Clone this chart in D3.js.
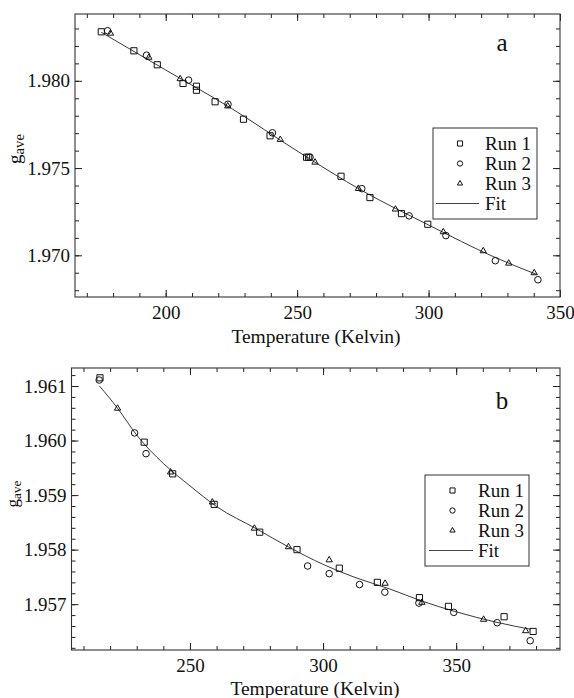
<!DOCTYPE html>
<html>
<head>
<meta charset="utf-8">
<script src="https://cdn.jsdelivr.net/npm/d3@7"></script>
<style>
  html, body { margin: 0; padding: 0; background: #fff; }
  svg { display: block; }
  text { font-family: "Liberation Serif", "Times New Roman", serif; fill: #111; }
</style>
</head>
<body>
<svg id="chart" width="574" height="698"></svg>
<script>
// ---------- Panel a data (Temperature K, g_ave) ----------
const aRun1 = [[175.5,1.98281],[187.9,1.98172],[196.8,1.98092],[206.6,1.97985],[211.7,1.97969],[211.7,1.97946],
  [218.8,1.97880],[229.6,1.97780],[239.7,1.97685],[253.6,1.97562],[254.4,1.97562],[266.7,1.97453],
  [277.7,1.97331],[289.7,1.97239],[299.7,1.97178]];
const aRun2 = [[177.9,1.98287],[192.7,1.98147],[208.7,1.98004],[223.7,1.97866],[240.6,1.97702],[254.9,1.97562],
  [274.6,1.97382],[292.6,1.97226],[306.6,1.97113],[325.4,1.96969],[341.6,1.96860]];
const aRun3 = [[179.0,1.98272],[193.6,1.98134],[205.5,1.98011],[223.6,1.97855],[243.6,1.97663],[256.8,1.97533],
  [273.3,1.97382],[287.4,1.97264],[305.6,1.97134],[320.8,1.97025],[330.5,1.96954],[340.2,1.96899]];
const aFit = [[175.5,1.98278],[200,1.98062],[225,1.97842],[250,1.97598],[275,1.97368],[300,1.97174],
  [325,1.96990],[341,1.96891]];
const aXTicks = [200, 250, 300, 350];
const aYTicks = [1.970, 1.975, 1.980];

// ---------- Panel b data ----------
const bRun1 = [[216.2,1.96115],[232.8,1.95997],[243.5,1.95939],[259.1,1.95883],[276.2,1.95832],[290.2,1.95800],
  [306.1,1.95766],[320.4,1.95740],[336.2,1.95712],[347.1,1.95696],[368.0,1.95677],[378.9,1.95650]];
const bRun2 = [[215.9,1.96111],[229.2,1.96014],[233.5,1.95976],[294.2,1.95770],[302.3,1.95756],[313.7,1.95736],
  [323.2,1.95722],[336.0,1.95702],[349.1,1.95685],[365.4,1.95666],[377.8,1.95633]];
const bRun3 = [[222.8,1.96059],[242.7,1.95942],[258.4,1.95887],[274.2,1.95839],[287.0,1.95805],[302.3,1.95781],
  [323.3,1.95738],[337.1,1.95703],[360.3,1.95672],[376.1,1.95651]];
const bFit = [[216,1.96100],[223,1.96058],[230,1.96010],[240,1.95958],[250,1.95917],[260,1.95879],[275,1.95838],
  [287,1.95805],[300,1.95773],[312,1.95749],[325,1.95728],[337,1.95706],[350,1.95686],[365,1.95667],[378,1.95654]];
const bXTicks = [250, 300, 350];
const bYTicks = [1.957, 1.958, 1.959, 1.960, 1.961];

const legendLabels = ["Run 1", "Run 2", "Run 3", "Fit"];
const xTitle = "Temperature (Kelvin)";

const svg = d3.select("#chart");

function drawPanel(cfg) {
  const g = svg.append("g");
  const x = d3.scaleLinear().domain(cfg.xDomain).range([cfg.left, cfg.right]);
  const y = d3.scaleLinear().domain(cfg.yDomain).range([cfg.bottom, cfg.top]);
  const H = cfg.bottom - cfg.top, W = cfg.right - cfg.left;

  // minor ticks
  const minorX = d3.range(cfg.xMinor[0], cfg.xMinor[1] + 1e-9, cfg.xMinor[2]);
  const minorY = d3.range(cfg.yMinor[0], cfg.yMinor[1] + 1e-12, cfg.yMinor[2]);
  const axes = [
    [d3.axisBottom(x), `translate(0,${cfg.bottom})`, minorX, cfg.xTicks, true],
    [d3.axisTop(x), `translate(0,${cfg.top})`, minorX, cfg.xTicks, false],
    [d3.axisLeft(y), `translate(${cfg.left},0)`, minorY, cfg.yTicks, true],
    [d3.axisRight(y), `translate(${cfg.right},0)`, minorY, cfg.yTicks, false]
  ];
  axes.forEach(([ax, tr, minor, major, labels], i) => {
    const mk = () => (i === 0 ? d3.axisBottom(x) : i === 1 ? d3.axisTop(x) : i === 2 ? d3.axisLeft(y) : d3.axisRight(y));
    const gm = g.append("g").attr("transform", tr)
      .call(mk().tickValues(minor).tickSize(-4).tickSizeOuter(0).tickFormat(""));
    gm.select(".domain").remove();
    gm.selectAll("line").attr("stroke", "#222");
    const fmt = i < 2 ? d3.format("d") : d3.format(".3f");
    const gM = g.append("g").attr("transform", tr)
      .call(mk().tickValues(major).tickSize(-7).tickSizeOuter(0)
        .tickPadding(i < 2 ? 9 : 5).tickFormat(labels ? fmt : ""));
    gM.select(".domain").remove();
    gM.selectAll("line").attr("stroke", "#222");
    gM.selectAll("text").style("font-family", '"Liberation Serif", serif')
      .style("font-size", "19px").attr("fill", "#111");
  });

  // frame
  g.append("rect").attr("x", cfg.left).attr("y", cfg.top).attr("width", W).attr("height", H)
    .attr("fill", "none").attr("stroke", "#333").attr("stroke-width", 1.1);

  // fit line
  const line = d3.line().x(d => x(d[0])).y(d => y(d[1])).curve(d3.curveMonotoneX);
  g.append("path").datum(cfg.fit).attr("d", line).attr("fill", "none")
    .attr("stroke", "#222").attr("stroke-width", 0.9);

  const symDefs = [
    [cfg.run1, d3.symbolSquare, 38],
    [cfg.run2, d3.symbolCircle, 34],
    [cfg.run3, d3.symbolTriangle, 17]
  ];
  symDefs.forEach(([data, type, size]) => {
    g.append("g").selectAll("path").data(data).join("path")
      .attr("transform", d => `translate(${x(d[0])},${y(d[1])})`)
      .attr("d", d3.symbol().type(type).size(size)())
      .attr("fill", "none").attr("stroke", "#111").attr("stroke-width", 1);
  });

  // panel letter
  g.append("text").attr("x", cfg.letterX).attr("y", cfg.letterY).attr("text-anchor", "middle")
    .style("font-size", "25px").text(cfg.letter);

  // legend
  const L = cfg.legend;
  const lg = g.append("g");
  lg.append("rect").attr("x", L.x).attr("y", L.y).attr("width", L.w).attr("height", L.h)
    .attr("fill", "#fff").attr("stroke", "#333").attr("stroke-width", 1);
  const legSyms = [[d3.symbolSquare, 26], [d3.symbolCircle, 22], [d3.symbolTriangle, 12]];
  legendLabels.forEach((lab, i) => {
    const yy = L.y0 + i * L.dy;
    if (i < 3) {
      lg.append("path").attr("transform", `translate(${L.symX},${yy})`)
        .attr("d", d3.symbol().type(legSyms[i][0]).size(legSyms[i][1])())
        .attr("fill", "none").attr("stroke", "#111").attr("stroke-width", 1);
    } else {
      lg.append("line").attr("x1", L.lineX1).attr("x2", L.lineX2).attr("y1", yy).attr("y2", yy)
        .attr("stroke", "#444").attr("stroke-width", 1);
    }
    lg.append("text").attr("x", L.textX).attr("y", yy).attr("dy", "0.35em")
      .style("font-size", "19px").text(lab);
  });

  // x title
  g.append("text").attr("x", cfg.titleX).attr("y", cfg.titleY).attr("text-anchor", "middle")
    .style("font-size", "19.5px").text(xTitle);

  // y title g_ave
  const yt = g.append("text")
    .attr("transform", `translate(${cfg.yLabX},${cfg.yLabY}) rotate(-90)`)
    .attr("text-anchor", "middle");
  yt.append("tspan").style("font-size", cfg.yLabSize + "px").text("g");
  yt.append("tspan").style("font-size", (cfg.yLabSize * 0.78) + "px").attr("dy", cfg.yLabSize * 0.18).text("ave");
}

drawPanel({
  left: 75, right: 560, top: 14, bottom: 297,
  xDomain: [165.5, 350], yDomain: [1.96761, 1.98383],
  xTicks: aXTicks, yTicks: aYTicks,
  xMinor: [170, 350, 10], yMinor: [1.968, 1.983, 0.001],
  run1: aRun1, run2: aRun2, run3: aRun3, fit: aFit,
  letter: "a", letterX: 502, letterY: 51,
  legend: { x: 433, y: 128, w: 104, h: 91, y0: 143.5, dy: 20, symX: 460, textX: 485, lineX1: 436, lineX2: 479 },
  titleX: 316, titleY: 343,
  yLabX: 21, yLabY: 149, yLabSize: 19
});

drawPanel({
  left: 71.5, right: 560, top: 368, bottom: 650,
  xDomain: [205.5, 389], yDomain: [1.95616, 1.96133],
  xTicks: bXTicks, yTicks: bYTicks,
  xMinor: [210, 380, 10], yMinor: [1.9562, 1.9613, 0.0002],
  run1: bRun1, run2: bRun2, run3: bRun3, fit: bFit,
  letter: "b", letterX: 502, letterY: 409,
  legend: { x: 425, y: 475, w: 104, h: 91, y0: 490.5, dy: 20, symX: 452.5, textX: 478, lineX1: 429, lineX2: 473 },
  titleX: 315, titleY: 695,
  yLabX: 18, yLabY: 494, yLabSize: 17
});
</script>
</body>
</html>
